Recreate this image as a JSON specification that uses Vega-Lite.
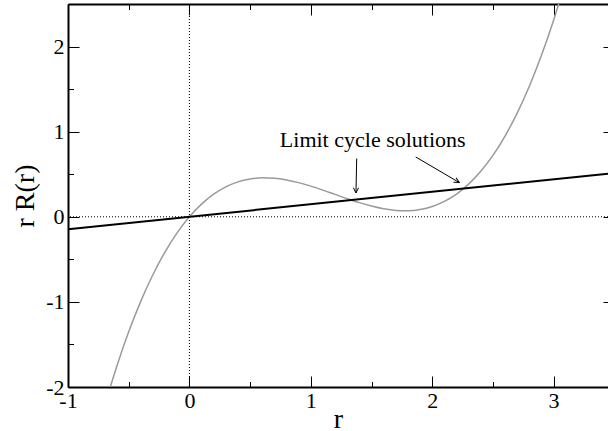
{
  "$schema": "https://vega.github.io/schema/vega-lite/v6.json",
  "width": 540,
  "height": 383,
  "autosize": {"type": "none"},
  "padding": {"left": 68, "top": 4, "right": 0, "bottom": 44},
  "config": {
    "view": {"stroke": null},
    "font": "Liberation Serif",
    "axis": {
      "grid": false,
      "labelFont": "Liberation Serif",
      "titleFont": "Liberation Serif",
      "labelColor": "black",
      "titleColor": "black",
      "tickColor": "black",
      "domainColor": "black",
      "domainWidth": 2,
      "tickWidth": 1,
      "labelFontSize": 22,
      "titleFontSize": 28,
      "titleFontWeight": "normal",
      "labelOverlap": false,
      "labelFlush": false
    }
  },
  "datasets": {
    "curve": [
      {"r": -0.7, "v": -2.231},
      {"r": -0.65, "v": -1.991},
      {"r": -0.6, "v": -1.765},
      {"r": -0.5, "v": -1.352},
      {"r": -0.4, "v": -0.991},
      {"r": -0.3, "v": -0.678},
      {"r": -0.2, "v": -0.411},
      {"r": -0.1, "v": -0.186},
      {"r": 0.0, "v": 0.0},
      {"r": 0.1, "v": 0.149},
      {"r": 0.2, "v": 0.265},
      {"r": 0.3, "v": 0.351},
      {"r": 0.4, "v": 0.410},
      {"r": 0.5, "v": 0.444},
      {"r": 0.6, "v": 0.458},
      {"r": 0.7, "v": 0.453},
      {"r": 0.8, "v": 0.433},
      {"r": 0.9, "v": 0.401},
      {"r": 1.0, "v": 0.360},
      {"r": 1.1, "v": 0.313},
      {"r": 1.2, "v": 0.263},
      {"r": 1.3, "v": 0.213},
      {"r": 1.4, "v": 0.166},
      {"r": 1.5, "v": 0.126},
      {"r": 1.6, "v": 0.094},
      {"r": 1.7, "v": 0.075},
      {"r": 1.8, "v": 0.071},
      {"r": 1.9, "v": 0.085},
      {"r": 2.0, "v": 0.120},
      {"r": 2.1, "v": 0.180},
      {"r": 2.2, "v": 0.267},
      {"r": 2.3, "v": 0.384},
      {"r": 2.4, "v": 0.535},
      {"r": 2.5, "v": 0.722},
      {"r": 2.6, "v": 0.949},
      {"r": 2.7, "v": 1.218},
      {"r": 2.8, "v": 1.534},
      {"r": 2.9, "v": 1.898},
      {"r": 3.0, "v": 2.310},
      {"r": 3.05, "v": 2.538},
      {"r": 3.1, "v": 2.780}
    ],
    "straight": [
      {"r": -1.0, "v": -0.147},
      {"r": 3.448, "v": 0.507}
    ],
    "arrows": [
      {"r": 1.378, "v": 0.684, "r2": 1.372, "v2": 0.280},
      {"r": 1.864, "v": 0.703, "r2": 2.223, "v2": 0.402}
    ]
  },
  "layer": [
    {
      "data": {"values": [{"r": 0}]},
      "mark": {"type": "rule", "color": "black", "strokeWidth": 1, "strokeDash": [1, 2]},
      "encoding": {
        "x": {"field": "r", "type": "quantitative", "scale": {"domain": [-1, 3.448], "nice": false, "zero": false}, "axis": null}
      }
    },
    {
      "data": {"values": [{"v": 0}]},
      "mark": {"type": "rule", "color": "black", "strokeWidth": 1, "strokeDash": [1, 2]},
      "encoding": {
        "y": {"field": "v", "type": "quantitative", "scale": {"domain": [-2, 2.5], "nice": false, "zero": false}, "axis": null}
      }
    },
    {
      "data": {"name": "curve"},
      "mark": {"type": "line", "color": "#9a9a9a", "strokeWidth": 1.5, "clip": true, "interpolate": "monotone"},
      "encoding": {
        "x": {
          "field": "r", "type": "quantitative",
          "scale": {"domain": [-1, 3.448], "nice": false, "zero": false},
          "axis": {
            "orient": "bottom",
            "title": "r",
            "values": [-1, -0.5, 0, 0.5, 1, 1.5, 2, 2.5, 3],
            "labelExpr": "datum.value % 1 === 0 ? '' + datum.value : ''",
            "tickSize": {"condition": {"test": "datum.value % 1 !== 0", "value": -5.5}, "value": -11},
            "labelPadding": 14,
            "titleFont": "Liberation Serif",
            "titleBaseline": "alphabetic",
            "titleY": 40,
            "encode": {
              "labels": {"update": {"font": {"value": "Liberation Serif"}, "fontSize": {"value": 22}}}
            }
          }
        },
        "y": {
          "field": "v", "type": "quantitative",
          "scale": {"domain": [-2, 2.5], "nice": false, "zero": false},
          "axis": {
            "orient": "left",
            "title": "r R(r)",
            "values": [-2, -1.5, -1, -0.5, 0, 0.5, 1, 1.5, 2, 2.5],
            "labelExpr": "datum.value % 1 === 0 ? '' + datum.value : ''",
            "tickSize": {"condition": {"test": "datum.value % 1 !== 0", "value": -5.5}, "value": -11},
            "labelPadding": 15,
            "titleFont": "Liberation Serif",
            "titleBaseline": "alphabetic",
            "titleX": -35,
            "titleY": 191.5,
            "titleAngle": -90,
            "encode": {
              "labels": {"update": {"font": {"value": "Liberation Serif"}, "fontSize": {"value": 22}}}
            }
          }
        }
      }
    },
    {
      "data": {"name": "straight"},
      "mark": {"type": "line", "color": "black", "strokeWidth": 2, "clip": true},
      "encoding": {
        "x": {
          "field": "r", "type": "quantitative",
          "axis": {
            "orient": "top",
            "title": null,
            "labels": false,
            "values": [-1, -0.5, 0, 0.5, 1, 1.5, 2, 2.5, 3],
            "tickSize": {"condition": {"test": "datum.value % 1 !== 0", "value": -5.5}, "value": -11}
          }
        },
        "y": {
          "field": "v", "type": "quantitative",
          "axis": {
            "orient": "right",
            "title": null,
            "labels": false,
            "domain": false,
            "values": [-2, -1, 0, 1, 2],
            "tickSize": -5
          }
        }
      }
    },
    {
      "data": {"values": [{"r": 1.51, "v": 0.82, "label": "Limit cycle solutions"}]},
      "mark": {"type": "text", "fontSize": 22, "font": "Liberation Serif", "align": "center", "baseline": "alphabetic", "color": "black"},
      "encoding": {
        "x": {"field": "r", "type": "quantitative", "axis": null},
        "y": {"field": "v", "type": "quantitative", "axis": null},
        "text": {"field": "label"}
      }
    },
    {
      "data": {"name": "arrows"},
      "mark": {"type": "rule", "color": "black", "strokeWidth": 1},
      "encoding": {
        "x": {"field": "r", "type": "quantitative", "axis": null},
        "y": {"field": "v", "type": "quantitative", "axis": null},
        "x2": {"field": "r2"},
        "y2": {"field": "v2"}
      }
    },
    {
      "data": {"values": [{"r": 1.372, "v": 0.280}]},
      "mark": {"type": "point", "shape": "M-0.5,1L0,0L0.5,1", "size": 110, "filled": false, "stroke": "black", "strokeWidth": 1, "opacity": 1, "angle": 180},
      "encoding": {
        "x": {"field": "r", "type": "quantitative", "axis": null},
        "y": {"field": "v", "type": "quantitative", "axis": null}
      }
    },
    {
      "data": {"values": [{"r": 2.223, "v": 0.402}]},
      "mark": {"type": "point", "shape": "M-0.5,1L0,0L0.5,1", "size": 110, "filled": false, "stroke": "black", "strokeWidth": 1, "opacity": 1, "angle": 120},
      "encoding": {
        "x": {"field": "r", "type": "quantitative", "axis": null},
        "y": {"field": "v", "type": "quantitative", "axis": null}
      }
    }
  ],
  "resolve": {"axis": {"x": "independent", "y": "independent"}}
}
